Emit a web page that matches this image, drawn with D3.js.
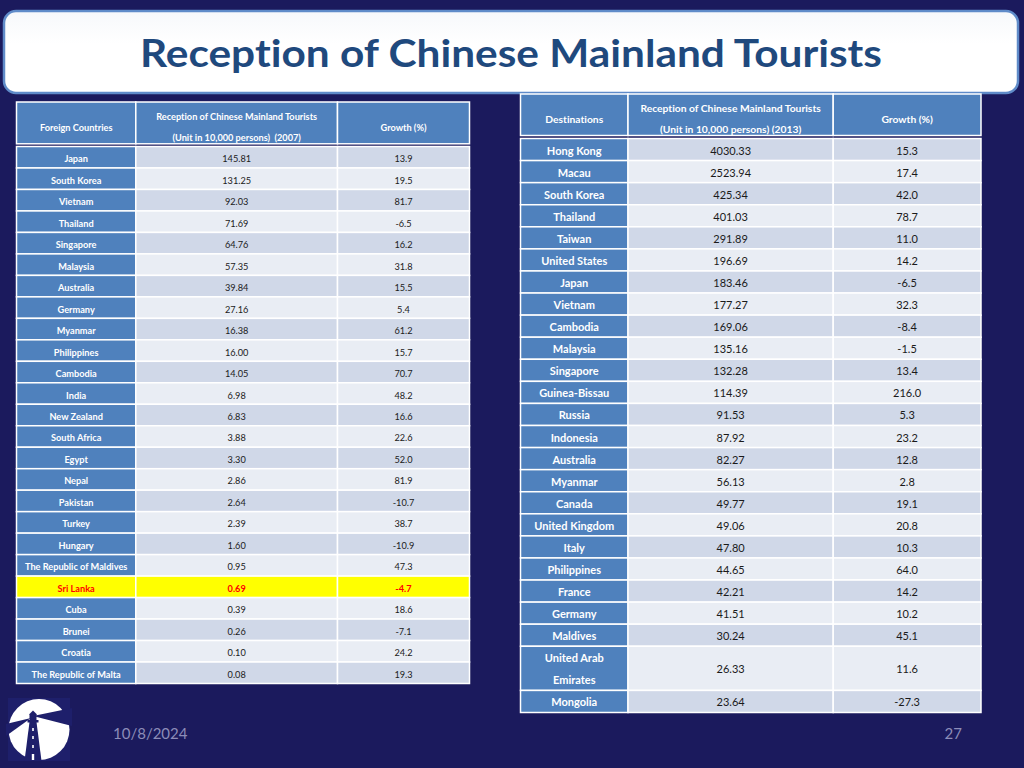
<!DOCTYPE html>
<html>
<head>
<meta charset="utf-8">
<script src="https://cdn.jsdelivr.net/npm/d3@7"></script>
<style>
  html, body { margin: 0; padding: 0; background: #1b1a5d; }
  svg { display: block; }
  text { white-space: pre; font-variant-ligatures: none; }
</style>
</head>
<body>
<svg id="chart" width="1024" height="768"></svg>
<script>
// ---------------- DATA ----------------
const titleText = "Reception of Chinese Mainland Tourists";
const footerDate = "10/8/2024";
const pageNumber = "27";

// Left table (2007)
const leftHeaders = [["Foreign Countries"], ["Reception of Chinese Mainland Tourists", "(Unit in 10,000 persons)  (2007)"], ["Growth (%)"]];
const leftCountries = ["Japan", "South Korea", "Vietnam", "Thailand", "Singapore", "Malaysia", "Australia", "Germany", "Myanmar", "Philippines", "Cambodia", "India", "New Zealand", "South Africa", "Egypt", "Nepal", "Pakistan", "Turkey", "Hungary", "The Republic of Maldives", "Sri Lanka", "Cuba", "Brunei", "Croatia", "The Republic of Malta"];
const leftTourists = ["145.81", "131.25", "92.03", "71.69", "64.76", "57.35", "39.84", "27.16", "16.38", "16.00", "14.05", "6.98", "6.83", "3.88", "3.30", "2.86", "2.64", "2.39", "1.60", "0.95", "0.69", "0.39", "0.26", "0.10", "0.08"];
const leftGrowth = ["13.9", "19.5", "81.7", "-6.5", "16.2", "31.8", "15.5", "5.4", "61.2", "15.7", "70.7", "48.2", "16.6", "22.6", "52.0", "81.9", "-10.7", "38.7", "-10.9", "47.3", "-4.7", "18.6", "-7.1", "24.2", "19.3"];
const highlighted = "Sri Lanka";

// Right table (2013)
const rightHeaders = [["Destinations"], ["Reception of Chinese Mainland Tourists", "(Unit in 10,000 persons) (2013)"], ["Growth (%)"]];
const rightDestinations = ["Hong Kong", "Macau", "South Korea", "Thailand", "Taiwan", "United States", "Japan", "Vietnam", "Cambodia", "Malaysia", "Singapore", "Guinea-Bissau", "Russia", "Indonesia", "Australia", "Myanmar", "Canada", "United Kingdom", "Italy", "Philippines", "France", "Germany", "Maldives", "United Arab Emirates", "Mongolia"];
const rightTourists = ["4030.33", "2523.94", "425.34", "401.03", "291.89", "196.69", "183.46", "177.27", "169.06", "135.16", "132.28", "114.39", "91.53", "87.92", "82.27", "56.13", "49.77", "49.06", "47.80", "44.65", "42.21", "41.51", "30.24", "26.33", "23.64"];
const rightGrowth = ["15.3", "17.4", "42.0", "78.7", "11.0", "14.2", "-6.5", "32.3", "-8.4", "-1.5", "13.4", "216.0", "5.3", "23.2", "12.8", "2.8", "19.1", "20.8", "10.3", "64.0", "14.2", "10.2", "45.1", "11.6", "-27.3"];

// ---------------- DRAW ----------------
const svg = d3.select("#chart");
const FONT = "Lato, 'Open Sans', 'DejaVu Sans', sans-serif";
const C = {
  bg: "#1b1a5d", blue: "#4f81bd", dark: "#d0d8e8", light: "#e9edf4",
  title: "#1f497d", border: "#5f8bc9", yellow: "#ffff00", red: "#ff0000", footer: "#8c8cb8"
};

svg.append("rect").attr("width", 1024).attr("height", 768).attr("fill", C.bg);

// Title box
const defs = svg.append("defs");
const tg = defs.append("linearGradient").attr("id", "tg").attr("x1", 0).attr("y1", 0).attr("x2", 0).attr("y2", 1);
tg.append("stop").attr("offset", "0%").attr("stop-color", "#f6f8fb");
tg.append("stop").attr("offset", "40%").attr("stop-color", "#ffffff");
tg.append("stop").attr("offset", "100%").attr("stop-color", "#ffffff");
svg.append("rect").attr("x", 4).attr("y", 11).attr("width", 1014).attr("height", 82)
  .attr("rx", 12).attr("fill", "url(#tg)").attr("stroke", C.border).attr("stroke-width", 2.5);
svg.append("text").attr("x", 511).attr("y", 67).attr("text-anchor", "middle")
  .attr("font-family", FONT).attr("font-weight", 700).attr("font-size", 38)
  .attr("fill", C.title).attr("textLength", 742).attr("lengthAdjust", "spacingAndGlyphs")
  .text(titleText);

function drawTable(cfg) {
  const g = svg.append("g");
  const n = cfg.names.length;
  // row spans: names too long for the cell wrap onto two lines
  const lines = cfg.names.map(s => (cfg.wrap && s.length > 16) ? [s.slice(0, s.lastIndexOf(" ")), s.slice(s.lastIndexOf(" ") + 1)] : [s]);
  const spans = lines.map(l => l.length);
  const starts = [];
  spans.reduce((acc, s, i) => { starts[i] = acc; return acc + s; }, 0);
  const total = d3.sum(spans);
  const y = d3.scaleLinear().domain([0, total]).range([cfg.bodyTop, cfg.bodyBottom]);
  const cols = cfg.cols;

  // header
  cols.forEach((c, j) => {
    g.append("rect").attr("x", c[0]).attr("y", cfg.headTop).attr("width", c[1] - c[0]).attr("height", cfg.headBottom - cfg.headTop)
      .attr("fill", C.blue).attr("stroke", "#ffffff").attr("stroke-width", 1.5);
    const h = cfg.headers[j];
    const ys = h.length === 1 ? [cfg.headSingleY] : cfg.headMultiY;
    h.forEach((t, k) => {
      g.append("text").attr("x", (c[0] + c[1]) / 2).attr("y", ys[k]).attr("text-anchor", "middle")
        .attr("font-family", FONT).attr("font-weight", 700).attr("font-size", cfg.headFont)
        .attr("fill", "#ffffff").text(t);
    });
  });

  // body
  const rows = g.selectAll("g.row").data(d3.range(n)).join("g").attr("class", "row");
  const fillFor = (i, j) => {
    if (cfg.names[i] === cfg.highlight) return C.yellow;
    if (j === 0) return C.blue;
    return i % 2 === 0 ? C.dark : C.light;
  };
  cols.forEach((c, j) => {
    rows.append("rect").attr("x", c[0]).attr("y", i => y(starts[i]))
      .attr("width", c[1] - c[0]).attr("height", i => y(starts[i] + spans[i]) - y(starts[i]))
      .attr("fill", i => fillFor(i, j)).attr("stroke", "#ffffff").attr("stroke-width", 1.5);
  });
  const cy = i => (y(starts[i]) + y(starts[i] + spans[i])) / 2;
  rows.each(function(i) {
    const r = d3.select(this);
    const hl = cfg.names[i] === cfg.highlight;
    const L = lines[i];
    const lh = cfg.lineGap;
    L.forEach((t, k) => {
      r.append("text").attr("x", (cols[0][0] + cols[0][1]) / 2)
        .attr("y", cy(i) + (k - (L.length - 1) / 2) * lh + cfg.baseOff)
        .attr("text-anchor", "middle").attr("font-family", FONT).attr("font-weight", 700)
        .attr("font-size", cfg.nameFont).attr("fill", hl ? C.red : "#ffffff").text(t);
    });
    [cfg.values, cfg.growth].forEach((arr, jj) => {
      const c = cols[jj + 1];
      r.append("text").attr("x", (c[0] + c[1]) / 2).attr("y", cy(i) + cfg.baseOff)
        .attr("text-anchor", "middle").attr("font-family", FONT)
        .attr("font-weight", hl ? 700 : 400).attr("font-size", cfg.valFont)
        .attr("fill", hl ? C.red : "#1a1a1a").text(arr[i]);
    });
  });
}

drawTable({
  names: leftCountries, values: leftTourists, growth: leftGrowth, headers: leftHeaders,
  highlight: highlighted, wrap: false,
  cols: [[16.5, 135.8], [135.8, 337.5], [337.5, 469.5]],
  headTop: 102, headBottom: 143.8, headSingleY: 130.5, headMultiY: [120, 141],
  bodyTop: 146.5, bodyBottom: 683.5,
  headFont: 9.2, nameFont: 9.2, valFont: 9.2, baseOff: 5, lineGap: 21
});

drawTable({
  names: rightDestinations, values: rightTourists, growth: rightGrowth, headers: rightHeaders,
  highlight: null, wrap: true,
  cols: [[520.5, 628], [628, 833.2], [833.2, 981]],
  headTop: 94, headBottom: 135.5, headSingleY: 122.5, headMultiY: [111.5, 132.5],
  bodyTop: 138.5, bodyBottom: 712.5,
  headFont: 10.3, nameFont: 11, valFont: 11, baseOff: 5, lineGap: 22
});

// Footer
svg.append("text").attr("x", 113).attr("y", 739).attr("font-family", FONT).attr("font-size", 15)
  .attr("fill", C.footer).text(footerDate);
svg.append("text").attr("x", 962).attr("y", 739).attr("text-anchor", "end").attr("font-family", FONT).attr("font-size", 15)
  .attr("fill", C.footer).text(pageNumber);

// Logo (lighthouse)
const logo = svg.append("g");
const navy = "#1e1f6b";
logo.append("rect").attr("x", 8).attr("y", 698).attr("width", 62).attr("height", 63).attr("fill", navy);
logo.append("circle").attr("cx", 39).attr("cy", 729.5).attr("r", 30.5).attr("fill", "#ffffff");
// dark sky between beams
logo.append("path").attr("fill", navy).attr("d", "M33,716 L72,708 L72,726 Z");
logo.append("path").attr("fill", navy).attr("d", "M31,718 L6,724 L6,736 Z");
// tower
logo.append("path").attr("fill", navy).attr("d", "M29.5,722 L36.5,722 L41.5,761 L24.5,761 Z");
// gallery and lamp
logo.append("rect").attr("x", 27.5).attr("y", 720).attr("width", 11).attr("height", 2.5).attr("fill", navy);
logo.append("rect").attr("x", 29.5).attr("y", 714).attr("width", 7).attr("height", 6).attr("fill", navy);
logo.append("path").attr("fill", navy).attr("d", "M29,714.5 L33,710.5 L37,714.5 Z");
// windows
[728, 736, 745].forEach(wy => logo.append("rect").attr("x", 32.2).attr("y", wy).attr("width", 1.6).attr("height", 3).attr("fill", "#ffffff"));
logo.append("rect").attr("x", 31.8).attr("y", 754).attr("width", 2.4).attr("height", 6).attr("fill", "#ffffff");
</script>
</body>
</html>
